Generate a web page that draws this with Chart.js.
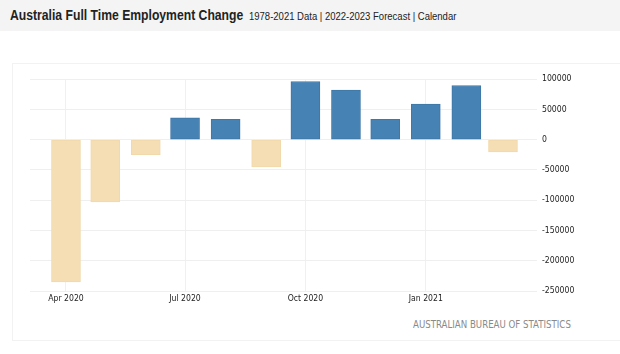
<!DOCTYPE html>
<html>
<head>
<meta charset="utf-8">
<script src="https://cdn.jsdelivr.net/npm/chart.js@4"></script>
<style>
html,body{margin:0;padding:0;background:#fff;}
body{width:620px;height:354px;position:relative;overflow:hidden;font-family:"Liberation Sans",Arial,sans-serif;}
#hdr{position:absolute;left:0;top:0;width:620px;height:31px;background:#f4f4f4;}
#title{position:absolute;left:10px;top:7px;font-size:14.5px;font-weight:bold;color:#222;white-space:nowrap;transform:scaleX(0.84);transform-origin:0 0;}
#sub{position:absolute;left:249px;top:9px;font-size:11.6px;color:#222;white-space:nowrap;transform:scaleX(0.82);transform-origin:0 0;}
#frame{position:absolute;left:12px;top:63px;width:620px;height:278px;border:1px solid #f2f2f2;box-sizing:border-box;}
#src{position:absolute;left:413px;top:319px;font-family:"DejaVu Sans Condensed","DejaVu Sans",sans-serif;font-size:9.6px;color:#8a8a8a;white-space:nowrap;}
#wrap{position:absolute;left:0;top:0;width:620px;height:354px;}
</style>
</head>
<body>
<div id="hdr"><div id="title">Australia Full Time Employment Change</div><div id="sub">1978-2021 Data | 2022-2023 Forecast | Calendar</div></div>
<div id="frame"></div>
<div id="src">AUSTRALIAN BUREAU OF STATISTICS</div>
<div id="wrap"><canvas id="c" width="620" height="354"></canvas></div>
<script>
const months = ["2020-04-01","2020-05-01","2020-06-01","2020-07-01","2020-08-01","2020-09-01","2020-10-01","2020-11-01","2020-12-01","2021-01-01","2021-02-01","2021-03-01"];
const values = [-235000,-103000,-25000,35700,33400,-45000,95900,81700,33400,58700,89300,-20200];
const xTickDates = ["2020-04-01","2020-07-01","2020-10-01","2021-01-01"];
const xTickLabels = ["Apr 2020","Jul 2020","Oct 2020","Jan 2021"];
const yTicks = [100000,50000,0,-50000,-100000,-150000,-200000,-250000];

const DAY = 86400000;
const base = Date.UTC(2020,3,1);
const toDay = s => (Date.parse(s + "T00:00:00Z") - base) / DAY;
const pts = months.map((m,i)=>({x:toDay(m), y:values[i]}));
const tickDays = xTickDates.map(toDay);

const axisFont = {family:'"DejaVu Sans Condensed","DejaVu Sans",sans-serif', size:8.6};

new Chart(document.getElementById('c'), {
  type:'bar',
  data:{datasets:[{
    data:pts,
    backgroundColor:values.map(v=>v>=0?'#4682b4':'#f5deb3'),
    borderColor:values.map(v=>v>=0?'#3f77a6':'#f2d9ab'),
    borderWidth:1,
    borderSkipped:false,
    barThickness:29
  }]},
  options:{
    responsive:false,
    animation:false,
    events:[],
    layout:{padding:{left:30,top:79,right:0,bottom:0}},
    plugins:{legend:{display:false},tooltip:{enabled:false},title:{display:false}},
    scales:{
      x:{
        type:'linear',
        offset:false,
        min:-27.5, max:360,
        grid:{color:'#f0f0f0',drawTicks:false,offset:false},
        border:{display:false},
        afterFit:s=>{s.height=63;s.paddingLeft=0;s.paddingRight=0;},
        afterBuildTicks:s=>{s.ticks=tickDays.map(v=>({value:v}));},
        ticks:{padding:3,color:'#222',font:axisFont,maxRotation:0,autoSkip:false,
          callback:(v)=>{const i=tickDays.indexOf(v);return i>=0?xTickLabels[i]:'';}}
      },
      y:{
        position:'right',
        min:-250000,max:100000,
        grid:{color:'#efefef',drawTicks:false},
        border:{display:false},
        afterFit:s=>{s.width=83;},
        afterBuildTicks:s=>{s.ticks=yTicks.map(v=>({value:v}));},
        ticks:{padding:5,color:'#222',font:axisFont,callback:v=>String(v)}
      }
    }
  }
});
</script>
</body>
</html>
